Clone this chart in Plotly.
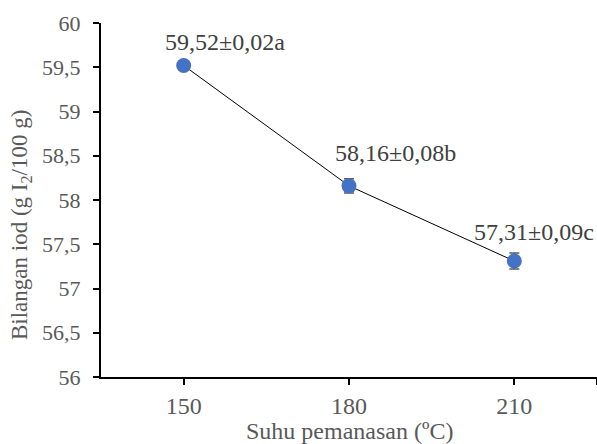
import plotly.graph_objects as go

temps = [150, 180, 210]
iodine = [59.52, 58.16, 57.31]
errors = [0.02, 0.08, 0.09]
labels = ["59,52±0,02a", "58,16±0,08b", "57,31±0,09c"]
label_dx = [41, 46, 20]
label_dy = [-23, -33, -29]
y_tickvals = [56, 56.5, 57, 57.5, 58, 58.5, 59, 59.5, 60]
y_ticktext = ["56", "56,5", "57", "57,5", "58", "58,5", "59", "59,5", "60"]
x_tickvals = [150, 180, 210, 225]
x_ticktext = ["150", "180", "210", ""]

FONT = "Liberation Serif, Times New Roman, serif"

fig = go.Figure()
fig.add_trace(go.Scatter(
    x=temps, y=iodine,
    mode="lines+markers",
    line=dict(color="black", width=1),
    marker=dict(color="#4472C4", size=15, line=dict(width=0)),
    error_y=dict(type="data", array=errors, visible=True, color="#595959", thickness=1.5, width=5),
    showlegend=False,
))

for x, y, t, dx, dy in zip(temps, iodine, labels, label_dx, label_dy):
    fig.add_annotation(x=x, y=y, text=t, showarrow=False, xshift=dx, yshift=-dy,
                       font=dict(family=FONT, size=24, color="#404040"))

fig.add_annotation(text="Bilangan iod (g I<sub>2</sub>/100 g)", xref="paper", yref="paper",
                   x=0, y=0.5, xshift=-80, yshift=-25, xanchor="center", yanchor="middle",
                   textangle=-90, showarrow=False,
                   font=dict(family=FONT, size=23, color="#595959"))
fig.add_annotation(text="Suhu pemanasan (ºC)", xref="paper", yref="paper",
                   x=0.5, y=0, yshift=-54, xanchor="center", yanchor="middle", showarrow=False,
                   font=dict(family=FONT, size=24, color="#595959"))

fig.update_layout(
    width=597, height=444,
    margin=dict(l=101, r=0, t=23, b=67, autoexpand=False),
    paper_bgcolor="white", plot_bgcolor="white",
    xaxis=dict(range=[135, 225], tickvals=x_tickvals, ticktext=x_ticktext, automargin=False,
               showgrid=False, zeroline=False, showline=True, linecolor="black", linewidth=2,
               ticks="outside", ticklen=6, tickwidth=1.5, tickcolor="black",
               tickfont=dict(family=FONT, size=24, color="#595959")),
    yaxis=dict(range=[56, 60], tickvals=y_tickvals, ticktext=y_ticktext, automargin=False,
               showgrid=False, zeroline=False, showline=True, linecolor="black", linewidth=2,
               ticks="outside", ticklen=6, tickwidth=1.5, tickcolor="black", ticklabelstandoff=8,
               tickfont=dict(family=FONT, size=22, color="#595959")),
)

fig.write_html("out.html", config={"displayModeBar": False},
               post_script="document.body.style.margin='0';document.body.style.overflow='hidden';")
